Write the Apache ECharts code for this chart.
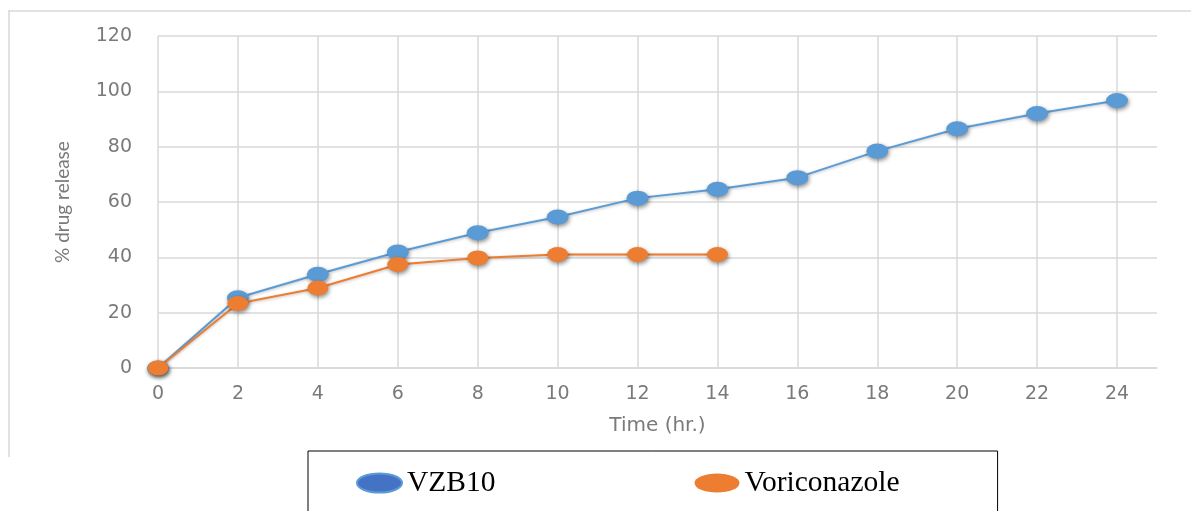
<!DOCTYPE html>
<html>
<head>
<meta charset="utf-8">
<title>Drug release profile</title>
<script src="https://cdn.jsdelivr.net/npm/echarts@6/dist/echarts.min.js"></script>
<style>
  html, body { margin: 0; padding: 0; background: #ffffff; }
  #chart { width: 1191px; height: 511px; }
</style>
</head>
<body>
<div id="chart"></div>
<script>
// Sampling times (hours)
const hours = [0, 2, 4, 6, 8, 10, 12, 14, 16, 18, 20, 22, 24];
// Cumulative % drug release
const vzb10 = [0, 25.4, 33.9, 41.9, 48.9, 54.6, 61.4, 64.6, 68.8, 78.4, 86.5, 92, 96.7];
const voriconazole = [0, 23.3, 28.9, 37.4, 39.8, 41, 41, 41];
const seriesNames = ['VZB10', 'Voriconazole'];
const yTicks = { min: 0, max: 120, step: 20 };

const ellipse = 'path://M0 10 A10 10 0 1 1 20 10 A10 10 0 1 1 0 10 Z';
const blue = '#5b9bd5';
const orange = '#ed7d31';
const grey = '#7a7a7a';
const gridGrey = '#d9d9d9';

const toPairs = vals => vals.map((v, i) => [hours[i], v]);

const markerShadow = {
  shadowBlur: 4,
  shadowColor: 'rgba(0,0,0,0.45)',
  shadowOffsetX: 1,
  shadowOffsetY: 2
};

const chart = echarts.init(document.getElementById('chart'), null, { renderer: 'canvas' });

chart.setOption({
  animation: false,
  backgroundColor: '#ffffff',
  grid: { left: 158, right: 34, top: 36, bottom: 143 },
  graphic: [
    { type: 'line', shape: { x1: 8, y1: 11, x2: 1191, y2: 11 }, style: { stroke: gridGrey, lineWidth: 1.5 } },
    { type: 'line', shape: { x1: 9, y1: 11, x2: 9, y2: 457 }, style: { stroke: gridGrey, lineWidth: 1.5 } }
  ],
  xAxis: {
    type: 'value',
    min: 0,
    max: 25,
    interval: 2,
    name: 'Time (hr.)',
    nameLocation: 'middle',
    nameGap: 48,
    nameTextStyle: { fontFamily: 'DejaVu Sans', fontSize: 20, color: grey },
    axisLine: { show: true, lineStyle: { color: gridGrey, width: 1.5 } },
    axisTick: { show: false },
    axisLabel: {
      margin: 17,
      fontFamily: 'DejaVu Sans',
      fontSize: 19,
      color: grey,
      showMaxLabel: false
    },
    splitLine: { show: true, showMaxLine: false, lineStyle: { color: gridGrey, width: 1.5 } }
  },
  yAxis: {
    type: 'value',
    min: yTicks.min,
    max: yTicks.max,
    interval: yTicks.step,
    name: '% drug release',
    nameLocation: 'middle',
    nameGap: 86,
    nameTextStyle: { fontFamily: 'Lato', fontSize: 19, color: grey },
    axisLine: { show: false },
    axisTick: { show: false },
    axisLabel: { margin: 26, fontFamily: 'DejaVu Sans', fontSize: 19, color: grey },
    splitLine: { show: true, lineStyle: { color: gridGrey, width: 1.5 } }
  },
  legend: {
    left: 308,
    top: 451,
    orient: 'horizontal',
    padding: [17, 98, 40, 48],
    itemGap: 199,
    itemWidth: 45,
    itemHeight: 19,
    symbolKeepAspect: false,
    borderColor: '#000000',
    borderWidth: 1,
    borderRadius: 0,
    textStyle: { fontFamily: 'Liberation Serif', fontSize: 29.5, color: '#000000' },
    data: [
      { name: seriesNames[0], icon: ellipse, itemStyle: { color: '#4472c4', borderColor: blue, borderWidth: 2 } },
      { name: seriesNames[1], icon: ellipse, itemStyle: { color: orange, borderWidth: 0 } }
    ]
  },
  series: [
    {
      name: seriesNames[0],
      type: 'line',
      data: toPairs(vzb10),
      symbol: ellipse,
      symbolSize: [22, 15],
      lineStyle: { color: blue, width: 2, shadowBlur: 3, shadowColor: 'rgba(0,0,0,0.25)', shadowOffsetY: 1 },
      itemStyle: Object.assign({ color: blue }, markerShadow),
      z: 2
    },
    {
      name: seriesNames[1],
      type: 'line',
      data: toPairs(voriconazole),
      symbol: ellipse,
      symbolSize: [21, 15],
      lineStyle: { color: orange, width: 2, shadowBlur: 3, shadowColor: 'rgba(0,0,0,0.25)', shadowOffsetY: 1 },
      itemStyle: Object.assign({ color: orange }, markerShadow),
      z: 3
    }
  ]
});
</script>
</body>
</html>
